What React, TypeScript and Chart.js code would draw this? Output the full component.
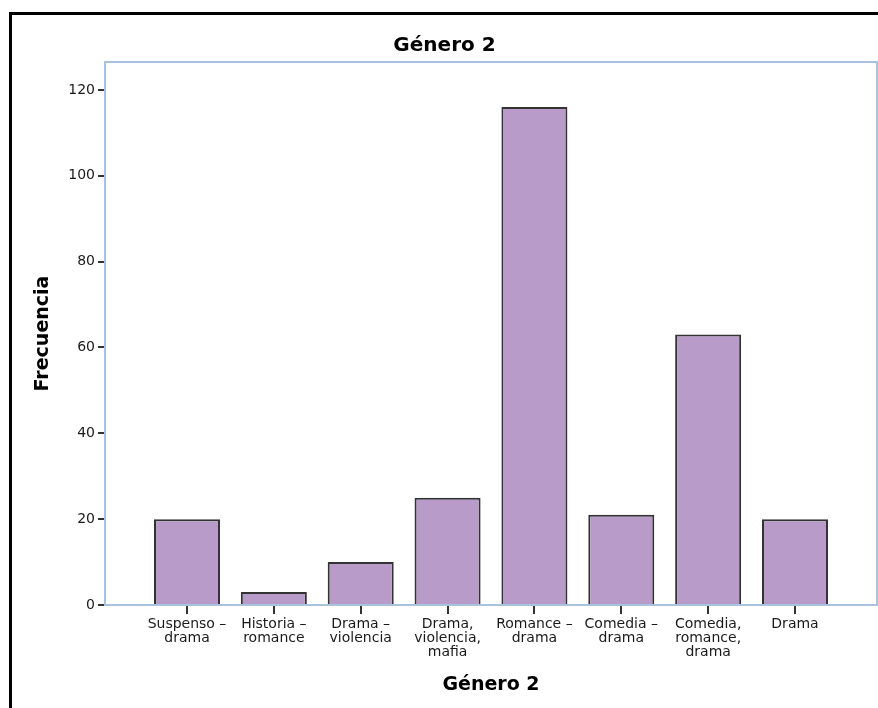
import React, { useEffect, useRef } from 'react';
import { Chart, registerables } from 'chart.js';

Chart.register(...registerables);

const chartTitle = 'Género 2';
const xTitle = 'Género 2';
const yTitle = 'Frecuencia';

const categories: string[][] = [
  ['Suspenso –', 'drama'],
  ['Historia –', 'romance'],
  ['Drama –', 'violencia'],
  ['Drama,', 'violencia,', 'mafia'],
  ['Romance –', 'drama'],
  ['Comedia –', 'drama'],
  ['Comedia,', 'romance,', 'drama'],
  ['Drama'],
];

const frequencies = [20, 3, 10, 25, 116, 21, 63, 20];

const yTicks = [0, 20, 40, 60, 80, 100, 120];

const FONT = "'DejaVu Sans', 'Liberation Sans', sans-serif";

const framePlugin = {
  id: 'plotFrame',
  afterDatasetsDraw(chart: any) {
    const { ctx, chartArea } = chart;
    const { left, top, right, bottom } = chartArea;
    ctx.save();
    ctx.strokeStyle = '#a9c3de';
    ctx.lineWidth = 2;
    ctx.strokeRect(left, top, right - left, bottom - top);
    ctx.restore();
  },
};

export default function App() {
  const canvasRef = useRef<HTMLCanvasElement | null>(null);

  useEffect(() => {
    if (!canvasRef.current) return;
    const chart = new Chart(canvasRef.current, {
      type: 'bar',
      data: {
        datasets: [
          {
            data: frequencies.map((v, i) => ({ x: i, y: v })),
            backgroundColor: '#b89bc9',
            borderColor: '#333333',
            borderWidth: 2,
            barPercentage: 0.76,
            categoryPercentage: 1,
          },
        ],
      },
      options: {
        animation: false,
        responsive: false,
        layout: { padding: { left: 0, right: 1, top: 0, bottom: 0 } },
        plugins: {
          legend: { display: false },
          tooltip: { enabled: false },
          title: {
            display: true,
            text: chartTitle,
            color: '#000',
            font: { family: FONT, size: 20, weight: 'bold', lineHeight: 1.2 },
            padding: { top: 19, bottom: 4 },
          },
        },
        scales: {
          x: {
            type: 'linear',
            offset: false,
            min: -0.944,
            max: 7.944,
            afterBuildTicks: (axis: any) => {
              axis.ticks = categories.map((_, i) => ({ value: i }));
            },
            afterFit: (scale: any) => {
              scale.height = 103;
            },
            border: { display: false },
            grid: {
              offset: false,
              drawOnChartArea: false,
              drawTicks: true,
              tickLength: 9,
              tickColor: '#333',
              lineWidth: 2,
            },
            ticks: {
              autoSkip: false,
              maxRotation: 0,
              minRotation: 0,
              padding: 3,
              color: '#1a1a1a',
              font: { family: FONT, size: 14, lineHeight: 1.0 },
              callback: (v: any) => categories[v as number] ?? '',
            },
            title: {
              display: true,
              text: xTitle,
              color: '#000',
              font: { family: FONT, size: 19, weight: 'bold', lineHeight: 1.2 },
              padding: { top: 4, bottom: 11.6 },
            },
          },
          y: {
            type: 'linear',
            min: 0,
            max: 126.5,
            afterBuildTicks: (axis: any) => {
              axis.ticks = yTicks.map((v) => ({ value: v }));
            },
            afterFit: (scale: any) => {
              scale.width = 93;
            },
            border: { display: false },
            grid: {
              drawOnChartArea: false,
              drawTicks: true,
              tickLength: 7,
              tickColor: '#333',
              lineWidth: 2,
            },
            ticks: {
              padding: 3,
              color: '#1a1a1a',
              font: { family: FONT, size: 14 },
            },
            title: {
              display: true,
              text: yTitle,
              color: '#000',
              font: { family: FONT, size: 19, weight: 'bold', lineHeight: 1.2 },
              padding: { top: 20, bottom: 4 },
            },
          },
        },
      } as any,
      plugins: [framePlugin],
    });
    return () => chart.destroy();
  }, []);

  return (
    <div
      style={{
        position: 'fixed',
        left: 9,
        top: 12,
        right: 0,
        bottom: 0,
        borderLeft: '3px solid #000',
        borderTop: '3px solid #000',
        background: '#fff',
        overflow: 'hidden',
      }}
    >
      <canvas
        ref={canvasRef}
        width={866}
        height={693}
        style={{ display: 'block', width: 866, height: 693 }}
      />
    </div>
  );
}
